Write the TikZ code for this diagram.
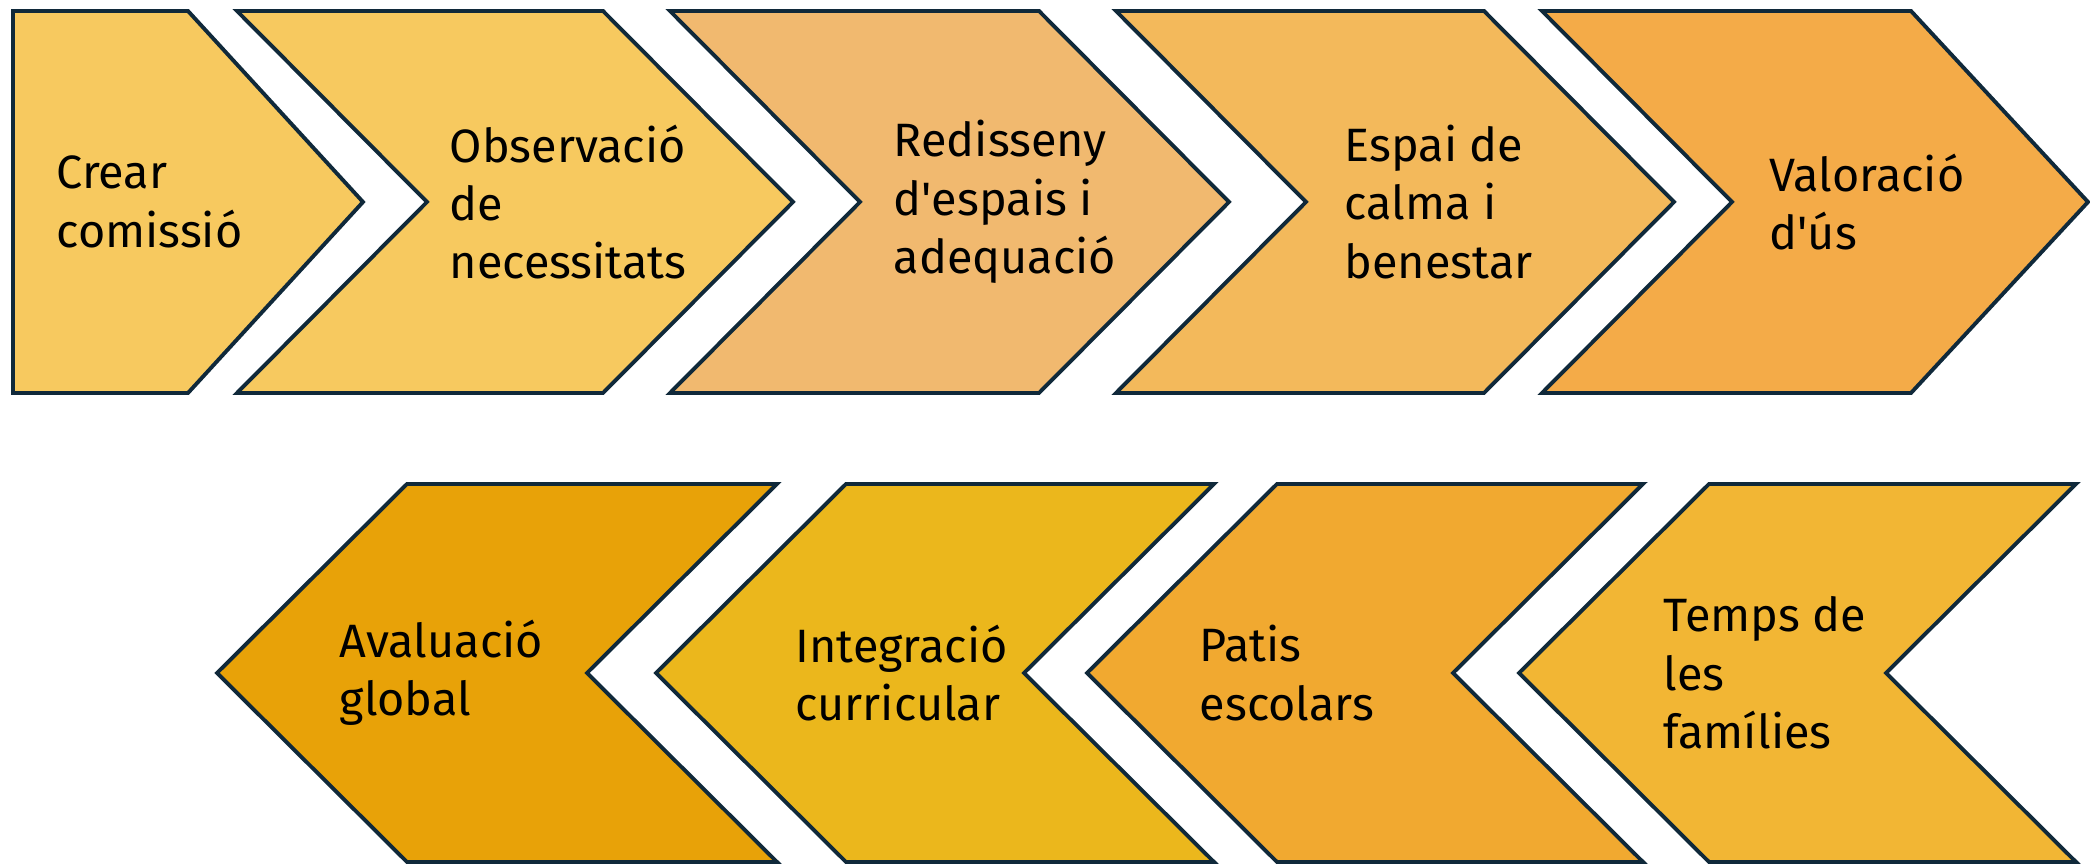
\documentclass[tikz,border=0pt]{standalone}
\usepackage{fontspec}
\setmainfont{Fira Sans}
\usepackage{tikz}
\definecolor{edge}{HTML}{10293A}
\definecolor{stepa}{HTML}{F7C95F}
\definecolor{stepb}{HTML}{F7C95F}
\definecolor{stepc}{HTML}{F1B96F}
\definecolor{stepd}{HTML}{F3B95B}
\definecolor{stepe}{HTML}{F4AB48}
\definecolor{stepf}{HTML}{F2B634}
\definecolor{stepg}{HTML}{F1A930}
\definecolor{steph}{HTML}{EBB71C}
\definecolor{stepi}{HTML}{E8A208}
\begin{document}
\begin{tikzpicture}[x=0.01cm, y=-0.01cm,
  stage/.style={draw=edge, line width=1.1pt, line join=miter},
  stagetext/.style={anchor=west, align=left, inner sep=0pt, font=\fontsize{13.3}{16.6}\selectfont}
  ]
  \useasboundingbox (0,0) rectangle (2090,865);
  \filldraw[stage, fill=stepa] (13,11) -- (188,11) -- (363,202) -- (188,393) -- (13,393) -- cycle;
  \foreach \l/\r/\t/\c in {237/603/793/stepb, 670/1039/1229/stepc, 1116/1484/1674/stepd, 1542/1911/2088/stepe}
    \filldraw[stage, fill=\c] (\l,11) -- (\r,11) -- (\t,202) -- (\r,393) -- (\l,393) -- (\l+190,202) -- cycle;
  \foreach \l/\r/\c in {407/777/stepi, 846/1214/steph, 1277/1643/stepg, 1709/2076/stepf}
    \filldraw[stage, fill=\c] (\l,484) -- (\r,484) -- (\r-190,673) -- (\r,862) -- (\l,862) -- (\l-190,673) -- cycle;
  \node[stagetext] (crear) at (56,202) {Crear\\comissió};
  \node[stagetext] (observacio) at (449,202) {Observació\\de\\necessitats};
  \node[stagetext] (redisseny) at (893,202) {Redisseny\\d\textquotesingle espais i\\adequació};
  \node[stagetext] (calma) at (1344,202) {Espai de\\calma i\\benestar};
  \node[stagetext] (valoracio) at (1769,202) {Valoració\\d\textquotesingle ús};
  \node[stagetext] (avaluacio) at (339,673) {Avaluació\\global};
  \node[stagetext] (integracio) at (795,673) {Integració\\curricular};
  \node[stagetext] (patis) at (1199,673) {Patis\\escolars};
  \node[stagetext] (families) at (1663,673) {Temps de\\les\\famílies};
\end{tikzpicture}
\end{document}
